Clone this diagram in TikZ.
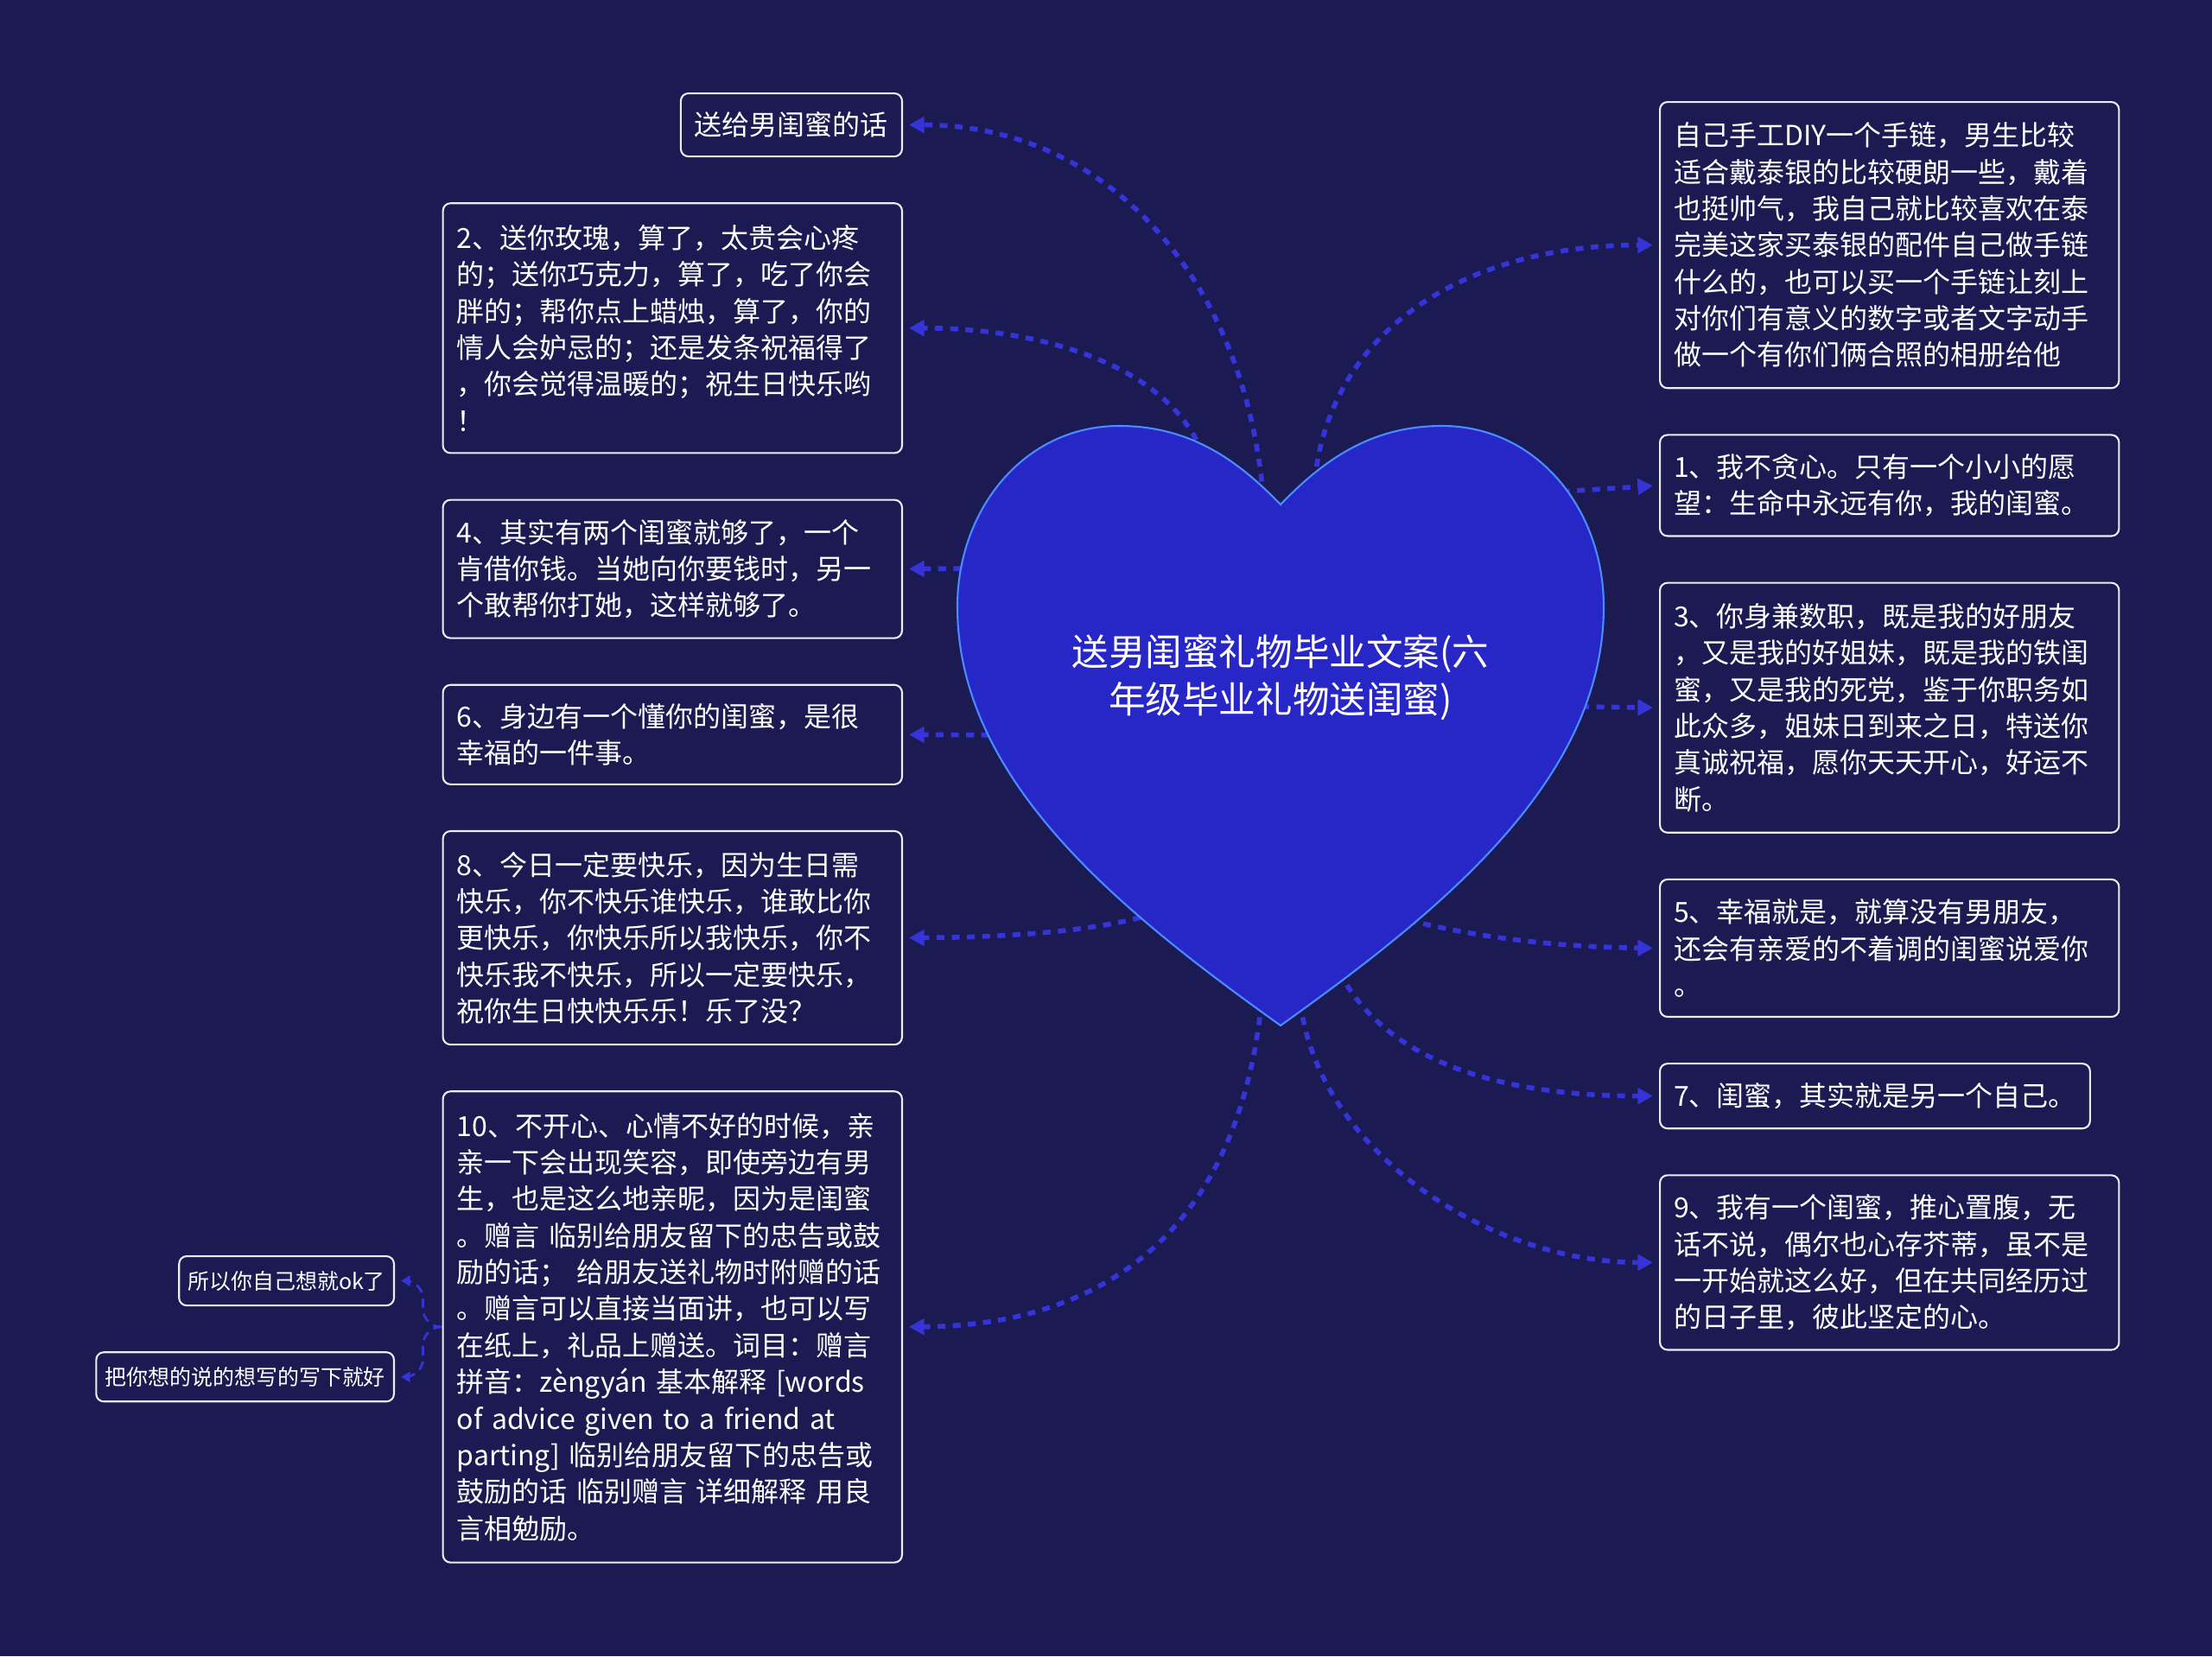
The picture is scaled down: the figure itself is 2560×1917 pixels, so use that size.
\documentclass[tikz,border=0pt]{standalone}
\usepackage{fontspec}
\setmainfont{Noto Sans CJK SC}
\usetikzlibrary{positioning,arrows.meta,backgrounds}
\definecolor{night}{HTML}{1B1A52}
\definecolor{heartfill}{HTML}{2727C8}
\definecolor{heartedge}{HTML}{4A8CFF}
\definecolor{boxedge}{HTML}{ECECF4}
\definecolor{link}{HTML}{3434D8}

\begin{document}
\begin{tikzpicture}[
  x=0.01cm, y=-0.01cm,
  box/.style={rounded corners=2.5pt, draw=boxedge, line width=0.6pt, fill=night, text=white, align=left, inner xsep=0.16cm, inner ysep=0.1cm, font=\fontsize{9.1}{12.05}\selectfont},
  wide/.style={box, text width=4.99cm},
  leaf/.style={box, inner xsep=0.1cm, minimum height=0.57cm, font=\fontsize{7.1}{9}\selectfont},
  heartbody/.style={fill=heartfill, draw=heartedge, line width=0.6pt},
  heartlbl/.style={text=white, align=center, font=\fontsize{12.1}{15.7}\selectfont},
  arr/.style={-{Triangle[length=5pt,width=5.2pt]}, line width=1.6pt, draw=link, dash pattern=on 2.6pt off 2.4pt, shorten >=2pt},
  subarr/.style={-{Triangle[length=3pt,width=3.4pt]}, line width=0.8pt, draw=link, dash pattern=on 3pt off 2pt, shorten >=2pt, rounded corners=6pt},
]
% heart
\draw[heartbody] (1482,584) .. controls (1430,530) and (1375,493) .. (1295,493)
  .. controls (1185,493) and (1108,590) .. (1108,702)
  .. controls (1108,900) and (1290,1050) .. (1482,1187)
  .. controls (1674,1050) and (1856,900) .. (1856,702)
  .. controls (1856,590) and (1779,493) .. (1669,493)
  .. controls (1589,493) and (1534,530) .. (1482,584) -- cycle;
\node[heartlbl] (title) at (1482,784) {送男闺蜜礼物毕业文案(六\\年级毕业礼物送闺蜜)};

% left column
\node[box, minimum height=0.73cm, anchor=north east] (gift) at (1045,107) {送给男闺蜜的话};
\node[wide, minimum height=2.89cm, below left=0.52cm and 0cm of gift.south east] (m2) {2、送你玫瑰，算了，太贵会心疼\\的；送你巧克力，算了，吃了你会\\胖的；帮你点上蜡烛，算了，你的\\情人会妒忌的；还是发条祝福得了\\，你会觉得温暖的；祝生日快乐哟\\！};
\node[wide, minimum height=1.6cm, below left=0.52cm and 0cm of m2.south east] (m4) {4、其实有两个闺蜜就够了，一个\\肯借你钱。当她向你要钱时，另一\\个敢帮你打她，这样就够了。};
\node[wide, minimum height=1.15cm, below left=0.52cm and 0cm of m4.south east] (m6) {6、身边有一个懂你的闺蜜，是很\\幸福的一件事。};
\node[wide, minimum height=2.47cm, below left=0.52cm and 0cm of m6.south east] (m8) {8、今日一定要快乐，因为生日需\\快乐，你不快乐谁快乐，谁敢比你\\更快乐，你快乐所以我快乐，你不\\快乐我不快乐，所以一定要快乐，\\祝你生日快快乐乐！乐了没？};
\node[wide, minimum height=5.45cm, below left=0.52cm and 0cm of m8.south east] (m10) {10、不开心、心情不好的时候，亲\\亲一下会出现笑容，即使旁边有男\\生，也是这么地亲昵，因为是闺蜜\\。赠言 临别给朋友留下的忠告或鼓\\励的话； 给朋友送礼物时附赠的话\\。赠言可以直接当面讲，也可以写\\在纸上，礼品上赠送。词目：赠言\\拼音：zèngyán 基本解释 [words\\of advice given to a friend at\\parting] 临别给朋友留下的忠告或\\鼓励的话 临别赠言 详细解释 用良\\言相勉励。};
\node[leaf, anchor=north east] (s1) at (457,1453) {所以你自己想就ok了};
\node[leaf, below left=0.52cm and 0cm of s1.south east] (s2) {把你想的说的想写的写下就好};

% right column
\node[wide, minimum height=3.31cm, anchor=north west] (diy) at (1920,117) {自己手工DIY一个手链，男生比较\\适合戴泰银的比较硬朗一些，戴着\\也挺帅气，我自己就比较喜欢在泰\\完美这家买泰银的配件自己做手链\\什么的，也可以买一个手链让刻上\\对你们有意义的数字或者文字动手\\做一个有你们俩合照的相册给他};
\node[wide, minimum height=1.17cm, below right=0.52cm and 0cm of diy.south west] (r1) {1、我不贪心。只有一个小小的愿\\望：生命中永远有你，我的闺蜜。};
\node[wide, minimum height=2.89cm, below right=0.52cm and 0cm of r1.south west] (r3) {3、你身兼数职，既是我的好朋友\\，又是我的好姐妹，既是我的铁闺\\蜜，又是我的死党，鉴于你职务如\\此众多，姐妹日到来之日，特送你\\真诚祝福，愿你天天开心，好运不\\断。};
\node[wide, minimum height=1.59cm, below right=0.52cm and 0cm of r3.south west] (r5) {5、幸福就是，就算没有男朋友，\\还会有亲爱的不着调的闺蜜说爱你\\。};
\node[box, minimum height=0.75cm, below right=0.52cm and 0cm of r5.south west] (r7) {7、闺蜜，其实就是另一个自己。};
\node[wide, minimum height=2.02cm, below right=0.52cm and 0cm of r7.south west] (r9) {9、我有一个闺蜜，推心置腹，无\\话不说，偶尔也心存芥蒂，虽不是\\一开始就这么好，但在共同经历过\\的日子里，彼此坚定的心。};

% connector ends under the heart
\coordinate (hg) at (1462,575);
\coordinate (h2) at (1392,525);
\coordinate (h4) at (1130,658);
\coordinate (h6) at (1180,851);
\coordinate (h8) at (1320,1062);
\coordinate (h10) at (1460,1160);
\coordinate (hd) at (1520,575);
\coordinate (h1) at (1790,570);
\coordinate (h3) at (1830,818);
\coordinate (h5) at (1630,1065);
\coordinate (h7) at (1550,1125);
\coordinate (h9) at (1505,1160);

\begin{scope}[on background layer]
\fill[night] (0,0) rectangle (2560,1917);
\draw[arr] (hg) .. controls (1440,320) and (1280,144.5) .. (gift.east);
\draw[arr] (h2) .. controls (1350,420) and (1200,379.5) .. (m2.east);
\draw[arr] (h4) -- (m4.east);
\draw[arr] (h6) -- (m6.east);
\draw[arr] (h8) .. controls (1250,1080) and (1150,1085) .. (m8.east);
\draw[arr] (h10) .. controls (1430,1450) and (1250,1534.5) .. (m10.east);
\draw[arr] (hd) .. controls (1530,380) and (1700,283.5) .. (diy.west);
\draw[arr] (h1) -- (r1.west);
\draw[arr] (h3) -- (r3.west);
\draw[arr] (h5) .. controls (1720,1088) and (1820,1096.5) .. (r5.west);
\draw[arr] (h7) .. controls (1610,1240) and (1760,1268.5) .. (r7.west);
\draw[arr] (h9) .. controls (1525,1330) and (1720,1461) .. (r9.west);
\draw[subarr] (m10.west) -- ++(-22,0) |- (s1.east);
\draw[subarr] (m10.west) -- ++(-22,0) |- (s2.east);
\end{scope}
\end{tikzpicture}
\end{document}
